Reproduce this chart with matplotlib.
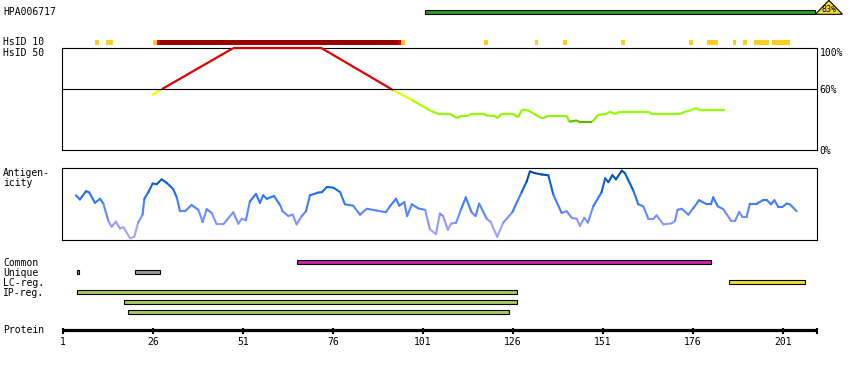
import matplotlib
matplotlib.use('Agg')
import matplotlib.pyplot as plt
from matplotlib.collections import LineCollection
from matplotlib.colors import LinearSegmentedColormap, Normalize
import numpy as np

# --- data ---
protein_len = 210
hpa_name = 'HPA006717'
hpa_start, hpa_end = 101.5, 210
hpa_identity = '83%'

# HsID 10 per-residue blocks (start, end)
hsid10_yellow = [(10, 10), (13, 14), (26, 26), (95, 95), (118, 118), (132, 132),
                 (140, 140), (156, 156), (175, 175), (180, 182), (187, 187),
                 (190, 190), (193, 196), (198, 202)]
hsid10_red = [(27, 27), (94, 94)]
hsid10_darkred = [(28, 93)]

# HsID 50 identity (%)
hsid50_pos = [25.7, 28.5, 48.2, 72.9, 92.7, 97.9, 103.4, 105.2, 108.5, 110.4, 111.8,
              113.5, 114.6, 117.7, 118.8, 121.0, 121.6, 122.9, 126.0, 127.4, 128.5,
              129.9, 131.6, 133.5, 134.3, 135.7, 141.0, 141.6, 143.8, 144.3, 148.0,
              149.6, 152.1, 152.9, 154.3, 155.7, 163.5, 164.6, 172.4, 173.8, 175.2,
              176.8, 177.9, 184.9]
hsid50_pct = [54, 60, 100, 100, 59, 49.3, 38.2, 35.9, 35.9, 31.5, 34, 34, 35.9, 35.9,
              34, 33.7, 31.4, 35.9, 35.9, 32.3, 39.8, 39.5, 36.3, 32.3, 31.4, 33.7,
              33.7, 28, 29.3, 27.7, 27.7, 34.6, 35.9, 37.9, 35.6, 37.9, 37.9, 35.6,
              35.6, 37.9, 38.9, 41.5, 39.2, 39.2]

# antigenicity (relative, 0..1)
antigen_pos = [4.6, 5.7, 7.4, 8.3, 9.9, 11.3, 12.2, 13.6, 14.5, 15.7,
               16.8, 17.8, 19.6, 20.8, 21.9, 23.1, 23.6, 24.7, 25.9, 27.0,
               28.4, 29.8, 31.6, 32.6, 33.5, 34.9, 36.7, 38.6, 39.8, 40.9,
               42.3, 43.7, 45.5, 48.3, 49.7, 50.6, 51.8, 52.9, 54.6, 55.7,
               56.6, 57.6, 59.6, 61.3, 62.0, 63.6, 64.8, 65.9, 67.3, 68.5,
               69.6, 71.9, 72.9, 74.3, 76.1, 78.0, 79.3, 81.6, 83.5, 85.4,
               88.1, 90.7, 91.8, 93.5, 94.4, 95.8, 96.6, 97.9, 99.7, 101.6,
               102.9, 104.6, 105.7, 106.6, 107.9, 108.8, 110.2, 111.6, 112.9, 114.5,
               115.6, 116.6, 118.7, 119.8, 121.6, 123.3, 125.8, 128.4, 129.8, 130.7,
               132.1, 134.0, 135.8, 137.2, 139.5, 140.9, 142.3, 143.7, 144.6, 145.8,
               146.8, 148.3, 150.6, 151.6, 152.5, 153.6, 154.6, 156.2, 157.1, 159.4,
               160.8, 162.2, 163.6, 165.0, 165.9, 167.8, 170.1, 171.0, 171.7, 172.9,
               174.7, 176.1, 177.7, 179.8, 181.0, 181.6, 182.9, 184.4, 186.6, 187.7,
               188.8, 189.7, 190.9, 191.8, 193.7, 195.5, 196.5, 197.7, 198.6, 199.7,
               200.8, 202.0, 202.9, 204.8]
antigen_val = [0.63, 0.57, 0.69, 0.67, 0.52, 0.58, 0.51, 0.26, 0.175, 0.25,
               0.15, 0.17, 0.01, 0.03, 0.24, 0.35, 0.58, 0.675, 0.80, 0.79,
               0.86, 0.81, 0.72, 0.60, 0.40, 0.40, 0.49, 0.42, 0.245, 0.43,
               0.375, 0.21, 0.21, 0.385, 0.22, 0.29, 0.27, 0.54, 0.65, 0.52,
               0.63, 0.58, 0.62, 0.49, 0.40, 0.33, 0.35, 0.21, 0.33, 0.40,
               0.63, 0.67, 0.675, 0.75, 0.74, 0.675, 0.50, 0.48, 0.35, 0.435,
               0.41, 0.385, 0.47, 0.58, 0.48, 0.53, 0.33, 0.50, 0.44, 0.42,
               0.14, 0.07, 0.365, 0.33, 0.13, 0.22, 0.235, 0.43, 0.60, 0.385,
               0.33, 0.51, 0.29, 0.245, 0.03, 0.235, 0.385, 0.675, 0.83, 0.975,
               0.95, 0.93, 0.92, 0.64, 0.375, 0.40, 0.305, 0.29, 0.19, 0.305,
               0.235, 0.47, 0.675, 0.875, 0.82, 0.92, 0.86, 0.985, 0.95, 0.70,
               0.50, 0.47, 0.29, 0.29, 0.34, 0.21, 0.225, 0.26, 0.42, 0.435,
               0.35, 0.445, 0.56, 0.50, 0.50, 0.60, 0.47, 0.43, 0.26, 0.26,
               0.39, 0.32, 0.32, 0.51, 0.51, 0.56, 0.56, 0.50, 0.56, 0.46,
               0.46, 0.51, 0.50, 0.40]

common = [(66, 181)]
unique = [(5, 5), (21, 28)]
lc_reg = [(186, 207)]
ip_reg = [(5, 127), (18, 127), (19, 125)]

prot_ticks = [1, 26, 51, 76, 101, 126, 151, 176, 201]

# --- layout (pixels) ---
W, H = 850, 370
X1 = 63        # pixel of residue 1
PPR = 3.6      # pixels per residue
FONT = 'DejaVu Sans Mono'
BLACK_LW = 0.8


def res(px):
    return 1 + (px - X1) / PPR


def txt(x, y, s, **kw):
    kw.setdefault('va', 'center')
    fig.text(x / W, 1 - y / H, s, family=FONT, fontsize=7, **kw)


fig = plt.figure(figsize=(W / 100, H / 100), dpi=100)

# background axes: x in residues, y in pixel rows
ax = fig.add_axes([0, 0, 1, 1])
ax.set_xlim(res(0), res(W))
ax.set_ylim(H, 0)
ax.axis('off')


def track(ranges, y, color, h=4.0):
    for s, e in ranges:
        ax.barh(y, max(e - s, 0.35), left=s, height=h, color=color,
                edgecolor='black', linewidth=BLACK_LW, zorder=3)


def blocks(ranges, y, color):
    for s, e in ranges:
        ax.barh(y, e - s + 1, left=s, height=4.5, color=color, linewidth=0, zorder=3)


# antigen bar + identity triangle
ax.barh(12.3, hpa_end - hpa_start, left=hpa_start, height=4, color='#22a022',
        edgecolor='black', linewidth=BLACK_LW, zorder=3)
tri_w = 7.5
ax.fill([hpa_end, hpa_end + tri_w, hpa_end + tri_w / 2], [14.3, 14.3, 0.3],
        facecolor='#f2dc40', edgecolor='black', linewidth=BLACK_LW, zorder=4, clip_on=False)
ax.text(hpa_end + tri_w / 2, 9.5, hpa_identity, family=FONT, fontsize=6,
        ha='center', va='center', zorder=5)

# HsID 10
blocks(hsid10_yellow, 42.5, '#ffcc22')
blocks(hsid10_red, 42.5, '#dd0000')
blocks(hsid10_darkred, 42.5, '#990000')

# feature tracks
track(common, 262.3, '#cc22aa')
track(unique, 272.3, '#999999')
track(lc_reg, 282.3, '#eedd33')
for i, r in enumerate(ip_reg):
    track([r], 292.3 + 10 * i, '#a4cc5c')

# protein axis
ax.plot([1, res(817)], [329.8, 329.8], color='black', lw=2.3, solid_capstyle='butt')
for t in prot_ticks + [res(817)]:
    ax.plot([t, t], [328, 333.5], color='black', lw=1.5, solid_capstyle='butt')
for t in prot_ticks:
    ax.text(t, 342, str(t), family=FONT, fontsize=7, ha='center', va='center')


def panel(top, bottom):
    a = fig.add_axes([62 / W, 1 - bottom / H, (817 - 62) / W, (bottom - top) / H])
    a.set_xlim(res(62), res(817))
    a.set_xticks([])
    for sp in a.spines.values():
        sp.set_linewidth(BLACK_LW)
    return a


# HsID 50 panel
ax50 = panel(48.3, 150.3)
ax50.set_ylim(0, 100)
ax50.axhline(60, color='black', lw=BLACK_LW, zorder=4)
hs_cmap = LinearSegmentedColormap.from_list('hs', [
    (0.0, '#55a000'), (0.10, '#66bb00'), (0.15, '#8ef000'), (0.43, '#99ff00'),
    (0.71, '#ccff00'), (1.0, '#ffff00')])
hs_norm = Normalize(25, 60)
hx = np.array(hsid50_pos)
hy = np.array(hsid50_pct)
segs = np.stack([np.column_stack([hx[:-1], hy[:-1]]), np.column_stack([hx[1:], hy[1:]])], axis=1)
mids = (hy[:-1] + hy[1:]) / 2
cols = ['#dd0000' if m >= 59.5 else hs_cmap(hs_norm(m)) for m in mids]
ax50.add_collection(LineCollection(segs, colors=cols, linewidths=1.6, clip_on=False, zorder=3))
ax50.yaxis.tick_right()
ax50.set_yticks([0, 60, 100])
ax50.set_yticklabels(['0%', '60%', '100%'], family=FONT, fontsize=7)
ax50.tick_params(axis='y', length=0, pad=2)
ax50.get_yticklabels()[2].set_va('top')

# antigenicity panel
axa = panel(168.3, 240.3)
axa.set_ylim(-0.02, 1.02)
axa.set_yticks([])
ag_cmap = LinearSegmentedColormap.from_list('ag', [
    (0.0, '#b4a8ff'), (0.2, '#9a9cff'), (0.4, '#5a88ff'), (0.6, '#2a75f5'),
    (0.8, '#0860d8'), (1.0, '#00469a')])
gx = np.array(antigen_pos)
gy = np.array(antigen_val)
segs = np.stack([np.column_stack([gx[:-1], gy[:-1]]), np.column_stack([gx[1:], gy[1:]])], axis=1)
mids = (gy[:-1] + gy[1:]) / 2
axa.add_collection(LineCollection(segs, colors=[ag_cmap(m) for m in mids],
                                  linewidths=1.5, capstyle='round'))

# left labels
txt(3, 12, hpa_name)
txt(3, 42, 'HsID 10')
txt(3, 52.5, 'HsID 50')
txt(3, 172.7, 'Antigen-')
txt(3, 183.3, 'icity')
txt(3, 262.7, 'Common')
txt(3, 272.7, 'Unique')
txt(3, 282.7, 'LC-reg.')
txt(3, 292.7, 'IP-reg.')
txt(3, 330, 'Protein')

fig.savefig('out.png', dpi=100)
